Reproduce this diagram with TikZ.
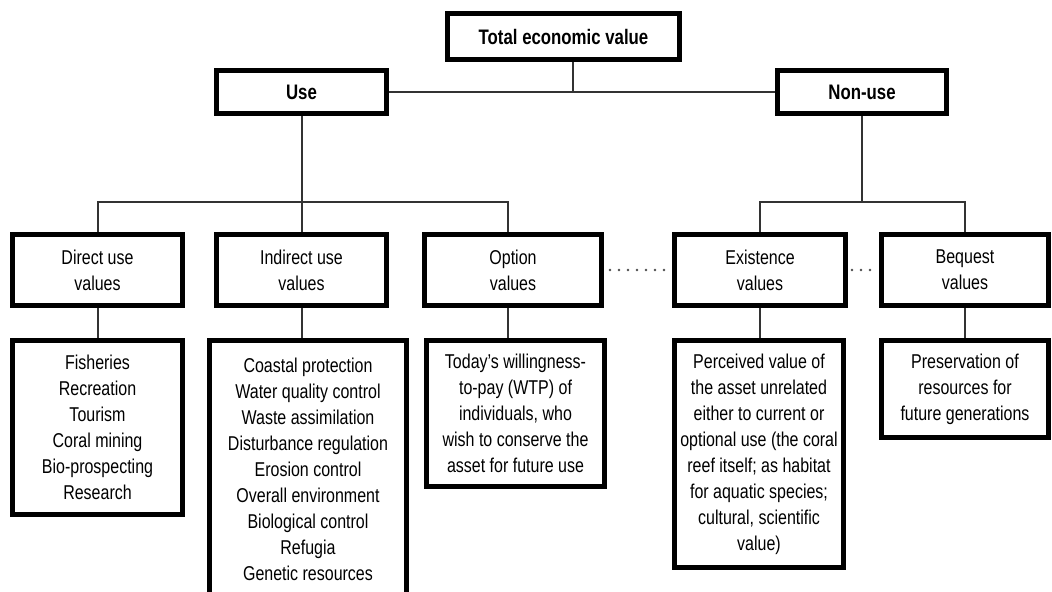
\documentclass[tikz,border=0pt]{standalone}
\usepackage{fontspec}
\setmainfont{Liberation Sans}[FakeStretch=0.8]
\usetikzlibrary{positioning}
\tikzset{
  headbox/.style={draw, line width=2.5pt, inner sep=0pt, font=\fontsize{10.5}{13}\selectfont\bfseries},
  valbox/.style={draw, line width=2.5pt, inner sep=0pt, align=center, font=\fontsize{10}{13}\selectfont},
  link/.style={line width=1pt, draw=black!80},
  dots/.style={line width=1.3pt, dash pattern=on 0pt off 4.5pt, line cap=round, draw=black!70}
}
\begin{document}
\begin{tikzpicture}[x=0.5pt,y=-0.5pt]
  \clip (0,0) rectangle (1052,591);
  \useasboundingbox (0,0) rectangle (1052,591);
  % top levels
  \node[headbox, minimum width=116pt, minimum height=23pt] (tev) at (563.5,36.5) {Total economic value};
  \node[headbox, minimum width=85pt, minimum height=21.5pt] (use) at (301.5,92) {Use};
  \node[headbox, minimum width=84.5pt, minimum height=21.5pt] (nonuse) at (862,92) {Non-use};
  % kinds of value
  \node[valbox, minimum width=85pt, minimum height=35.5pt] (direct) at (97.5,270) {Direct use\\values};
  \node[valbox, minimum width=85pt, minimum height=35.5pt] (indirect) at (301.5,270) {Indirect use\\values};
  \node[valbox, minimum width=88.5pt, minimum height=35.5pt] (option) at (513,270) {Option\\values};
  \node[valbox, minimum width=85.5pt, minimum height=35.5pt] (exist) at (760,270) {Existence\\values};
  \node[valbox, minimum width=83.5pt, minimum height=35.5pt] (bequest) at (965,270) {Bequest\\values};
  % examples
  \node[valbox, minimum width=85pt, minimum height=87pt] (directlist) at (97.5,427.5)
    {Fisheries\\Recreation\\Tourism\\Coral mining\\Bio-prospecting\\Research};
  \node[valbox, minimum width=98.5pt, minimum height=128.5pt] (indirectlist) at (308,469)
    {Coastal protection\\Water quality control\\Waste assimilation\\Disturbance regulation\\Erosion control\\Overall environment\\Biological control\\Refugia\\Genetic resources};
  \node[valbox, minimum width=89pt, minimum height=73pt] (optionlist) at (515.5,413.5)
    {Today's willingness-\\to-pay (WTP) of\\individuals, who\\wish to conserve the\\asset for future use};
  \node[valbox, minimum width=84.5pt, minimum height=113.5pt] (existlist) at (759,454)
    {Perceived value of\\the asset unrelated\\either to current or\\optional use (the coral\\reef itself; as habitat\\for aquatic species;\\cultural, scientific\\value)};
  \node[valbox, minimum width=83.5pt, minimum height=48.5pt] (bequestlist) at (965,389)
    {Preservation of\\resources for\\future generations};
  % connectors
  \draw[link] (use.east) -- (nonuse.west);
  \draw[link] ([xshift=4.5pt]tev.south) -- ([xshift=4.5pt]tev.south |- use.east);
  \coordinate (ubar) at (301.5,202);
  \coordinate (nbar) at (862,202);
  \draw[link] (use.south) -- (ubar);
  \draw[link] (direct.north) |- (ubar) -| ([xshift=-2.5pt]option.north);
  \draw[link] (ubar) -- (indirect.north);
  \draw[link] (nonuse.south) -- (nbar);
  \draw[link] (exist.north) |- (nbar) -| (bequest.north);
  \draw[link] (direct.south) -- (direct.south |- directlist.north);
  \draw[link] (indirect.south) -- (indirect.south |- indirectlist.north);
  \draw[link] ([xshift=-2.5pt]option.south) -- ([xshift=-2.5pt]option.south |- optionlist.north);
  \draw[link] (exist.south) -- (exist.south |- existlist.north);
  \draw[link] (bequest.south) -- (bequest.south |- bequestlist.north);
  \draw[dots] ([xshift=3pt]option.east) -- (exist.west);
  \draw[dots] ([xshift=2pt]exist.east) -- (bequest.west);
\end{tikzpicture}
\end{document}
